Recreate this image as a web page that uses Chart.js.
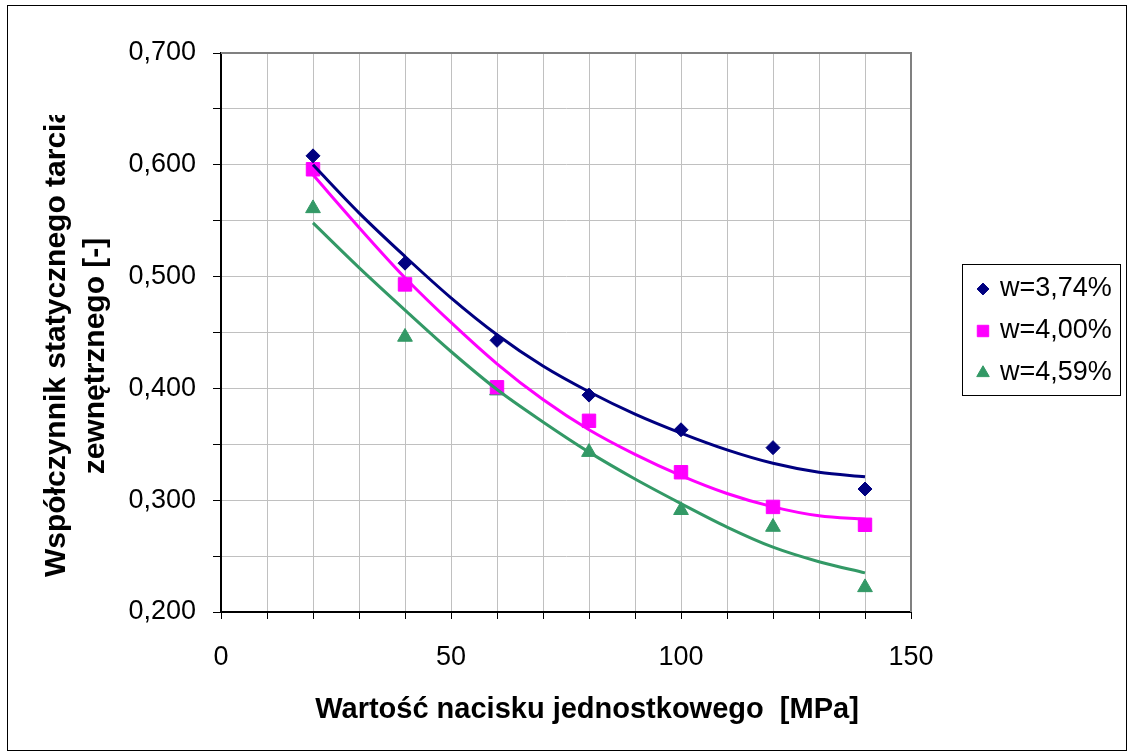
<!DOCTYPE html>
<html>
<head>
<meta charset="utf-8">
<script src="https://cdn.jsdelivr.net/npm/chart.js@4.4.1/dist/chart.umd.min.js"></script>
<style>
  html, body { margin: 0; padding: 0; background: #fff; }
  #wrap { width: 1128px; height: 753px; }
</style>
</head>
<body>
<div id="wrap"><canvas id="chart" width="1128" height="753"></canvas></div>
<script>
// measured points (MPa -> coefficient)
const pressure = [20, 40, 60, 80, 100, 120, 140];
const w374 = [0.608, 0.512, 0.443, 0.394, 0.363, 0.347, 0.310];
const w400 = [0.596, 0.493, 0.401, 0.371, 0.325, 0.294, 0.278];
const w459 = [0.561, 0.446, 0.398, 0.343, 0.291, 0.276, 0.222];

// trend lines
const trendX = [20, 30, 40, 50, 60, 70, 80, 90, 100, 110, 120, 130, 140];
const trend374 = [0.600, 0.557, 0.518, 0.481, 0.448, 0.420, 0.397, 0.377, 0.360, 0.345, 0.333, 0.325, 0.321];
const trend400 = [0.591, 0.544, 0.499, 0.459, 0.422, 0.390, 0.363, 0.341, 0.322, 0.306, 0.294, 0.286, 0.283];
const trend459 = [0.548, 0.508, 0.470, 0.433, 0.399, 0.370, 0.343, 0.319, 0.297, 0.276, 0.258, 0.245, 0.235];

const seriesLabels = ['w=3,74%', 'w=4,00%', 'w=4,59%'];
const xTitle = 'Wartość nacisku jednostkowego  [MPa]';
const yTitle = ['Współczynnik statycznego tarcia', 'zewnętrznego [-]'];

const NAVY = '#000080', MAGENTA = '#ff00ff', GREEN = '#339966';
const FONT = "'Liberation Sans', Arial, sans-serif";

function pts(xs, ys) {
    return xs.map((x, i) => ({ x: x, y: ys[i] }));
}

function markerSet(label, values, color, style, radius) {
    return {
        label: label,
        data: pts(pressure, values),
        showLine: false,
        pointStyle: style,
        pointRadius: radius,
        pointHoverRadius: radius,
        pointBackgroundColor: color,
        pointBorderColor: color,
        pointBorderWidth: 1,
        backgroundColor: color,
        borderColor: color,
        order: 2
    };
}

function trendSet(values, color) {
    return {
        label: 'trend',
        data: pts(trendX, values),
        showLine: true,
        pointRadius: 0,
        borderColor: color,
        borderWidth: 3,
        cubicInterpolationMode: 'monotone',
        fill: false,
        order: 1
    };
}

const markers = [
    markerSet(seriesLabels[0], w374, NAVY, 'rectRot', 7),
    markerSet(seriesLabels[1], w400, MAGENTA, 'rect', 9.5),
    markerSet(seriesLabels[2], w459, GREEN, 'triangle', 8.5)
];
const trends = [trendSet(trend374, NAVY), trendSet(trend400, MAGENTA), trendSet(trend459, GREEN)];

function legendMarker(ctx, style, r, x, y) {
    if (Chart.helpers && Chart.helpers.drawPoint) {
        Chart.helpers.drawPoint(ctx, { pointStyle: style, radius: r, rotation: 0, borderWidth: 1 }, x, y);
        return;
    }
    ctx.beginPath();
    if (style === 'rectRot') {
        ctx.moveTo(x, y - r); ctx.lineTo(x + r, y); ctx.lineTo(x, y + r); ctx.lineTo(x - r, y);
    } else if (style === 'rect') {
        const s = r * Math.SQRT1_2;
        ctx.rect(x - s, y - s, 2 * s, 2 * s);
    } else {
        ctx.moveTo(x, y - r);
        ctx.lineTo(x + r * 0.866, y + r / 2);
        ctx.lineTo(x - r * 0.866, y + r / 2);
    }
    ctx.closePath();
    ctx.fill();
    ctx.stroke();
}

const decorations = {
    id: 'decorations',
    beforeDraw(chart) {
        const ctx = chart.ctx;
        ctx.save();
        ctx.fillStyle = '#fff';
        ctx.fillRect(0, 0, chart.width, chart.height);
        ctx.restore();
    },
    beforeDatasetsDraw(chart) {
        const ctx = chart.ctx, a = chart.chartArea;
        ctx.save();
        ctx.strokeStyle = '#808080';
        ctx.lineWidth = 2;
        ctx.beginPath();
        ctx.moveTo(a.left, a.top);
        ctx.lineTo(a.right, a.top);
        ctx.lineTo(a.right, a.bottom);
        ctx.stroke();
        ctx.restore();
    },
    afterDraw(chart) {
        const ctx = chart.ctx;
        ctx.save();
        // outer frame
        ctx.strokeStyle = '#000';
        ctx.lineWidth = 1;
        ctx.strokeRect(7.5, 5.5, 1119, 745);

        // axis titles
        ctx.fillStyle = '#000';
        ctx.font = 'bold 29px ' + FONT;
        ctx.textAlign = 'center';
        ctx.textBaseline = 'alphabetic';
        ctx.fillText(xTitle, 587, 718);

        ctx.font = 'bold 30px ' + FONT;
        ctx.save();
        ctx.beginPath();
        ctx.rect(0, 115, 200, 640);
        ctx.clip();
        ctx.translate(65, 577);
        ctx.rotate(-Math.PI / 2);
        ctx.textAlign = 'left';
        ctx.fillText(yTitle[0], 0, 0);
        ctx.restore();
        ctx.save();
        ctx.translate(104, 356);
        ctx.rotate(-Math.PI / 2);
        ctx.textAlign = 'center';
        ctx.fillText(yTitle[1], 0, 0);
        ctx.restore();

        // legend
        ctx.strokeStyle = '#000';
        ctx.lineWidth = 1;
        ctx.strokeRect(962.5, 264.5, 158, 131);
        ctx.font = '27px ' + FONT;
        ctx.textAlign = 'left';
        ctx.textBaseline = 'middle';
        const rows = [289, 331, 373];
        markers.forEach((ds, i) => {
            ctx.fillStyle = ds.pointBackgroundColor;
            ctx.strokeStyle = ds.pointBorderColor;
            ctx.lineWidth = 1;
            legendMarker(ctx, ds.pointStyle, ds.pointRadius * 0.85, 983, rows[i]);
            ctx.fillStyle = '#000';
            ctx.fillText(ds.label, 1000, rows[i]);
        });
        ctx.restore();
    }
};

new Chart(document.getElementById('chart'), {
    type: 'scatter',
    data: { datasets: trends.concat(markers) },
    plugins: [decorations],
    options: {
        responsive: false,
        animation: false,
        devicePixelRatio: 1,
        layout: { padding: { left: 0, top: 53, right: 217, bottom: 0 } },
        plugins: {
            legend: { display: false },
            tooltip: { enabled: false }
        },
        scales: {
            x: {
                type: 'linear',
                min: 0,
                max: 150,
                afterFit(scale) { scale.height = 141; },
                ticks: {
                    stepSize: 10,
                    autoSkip: false,
                    maxRotation: 0,
                    padding: 22,
                    color: '#000',
                    font: { family: FONT, size: 27 },
                    callback: v => (v % 50 === 0 ? String(v) : '')
                },
                grid: { color: '#c0c0c0', lineWidth: 1, tickColor: '#000', tickLength: 7 },
                border: { color: '#000', width: 2 }
            },
            y: {
                type: 'linear',
                min: 0.2,
                max: 0.7,
                afterFit(scale) { scale.width = 221; },
                ticks: {
                    stepSize: 0.05,
                    autoSkip: false,
                    padding: 17,
                    color: '#000',
                    font: { family: FONT, size: 27 },
                    callback: v => (Math.round(v * 100) % 10 === 0 ? v.toFixed(3).replace('.', ',') : '')
                },
                grid: { color: '#c0c0c0', lineWidth: 1, tickColor: '#000', tickLength: 8 },
                border: { color: '#000', width: 2 }
            }
        }
    }
});
</script>
</body>
</html>
